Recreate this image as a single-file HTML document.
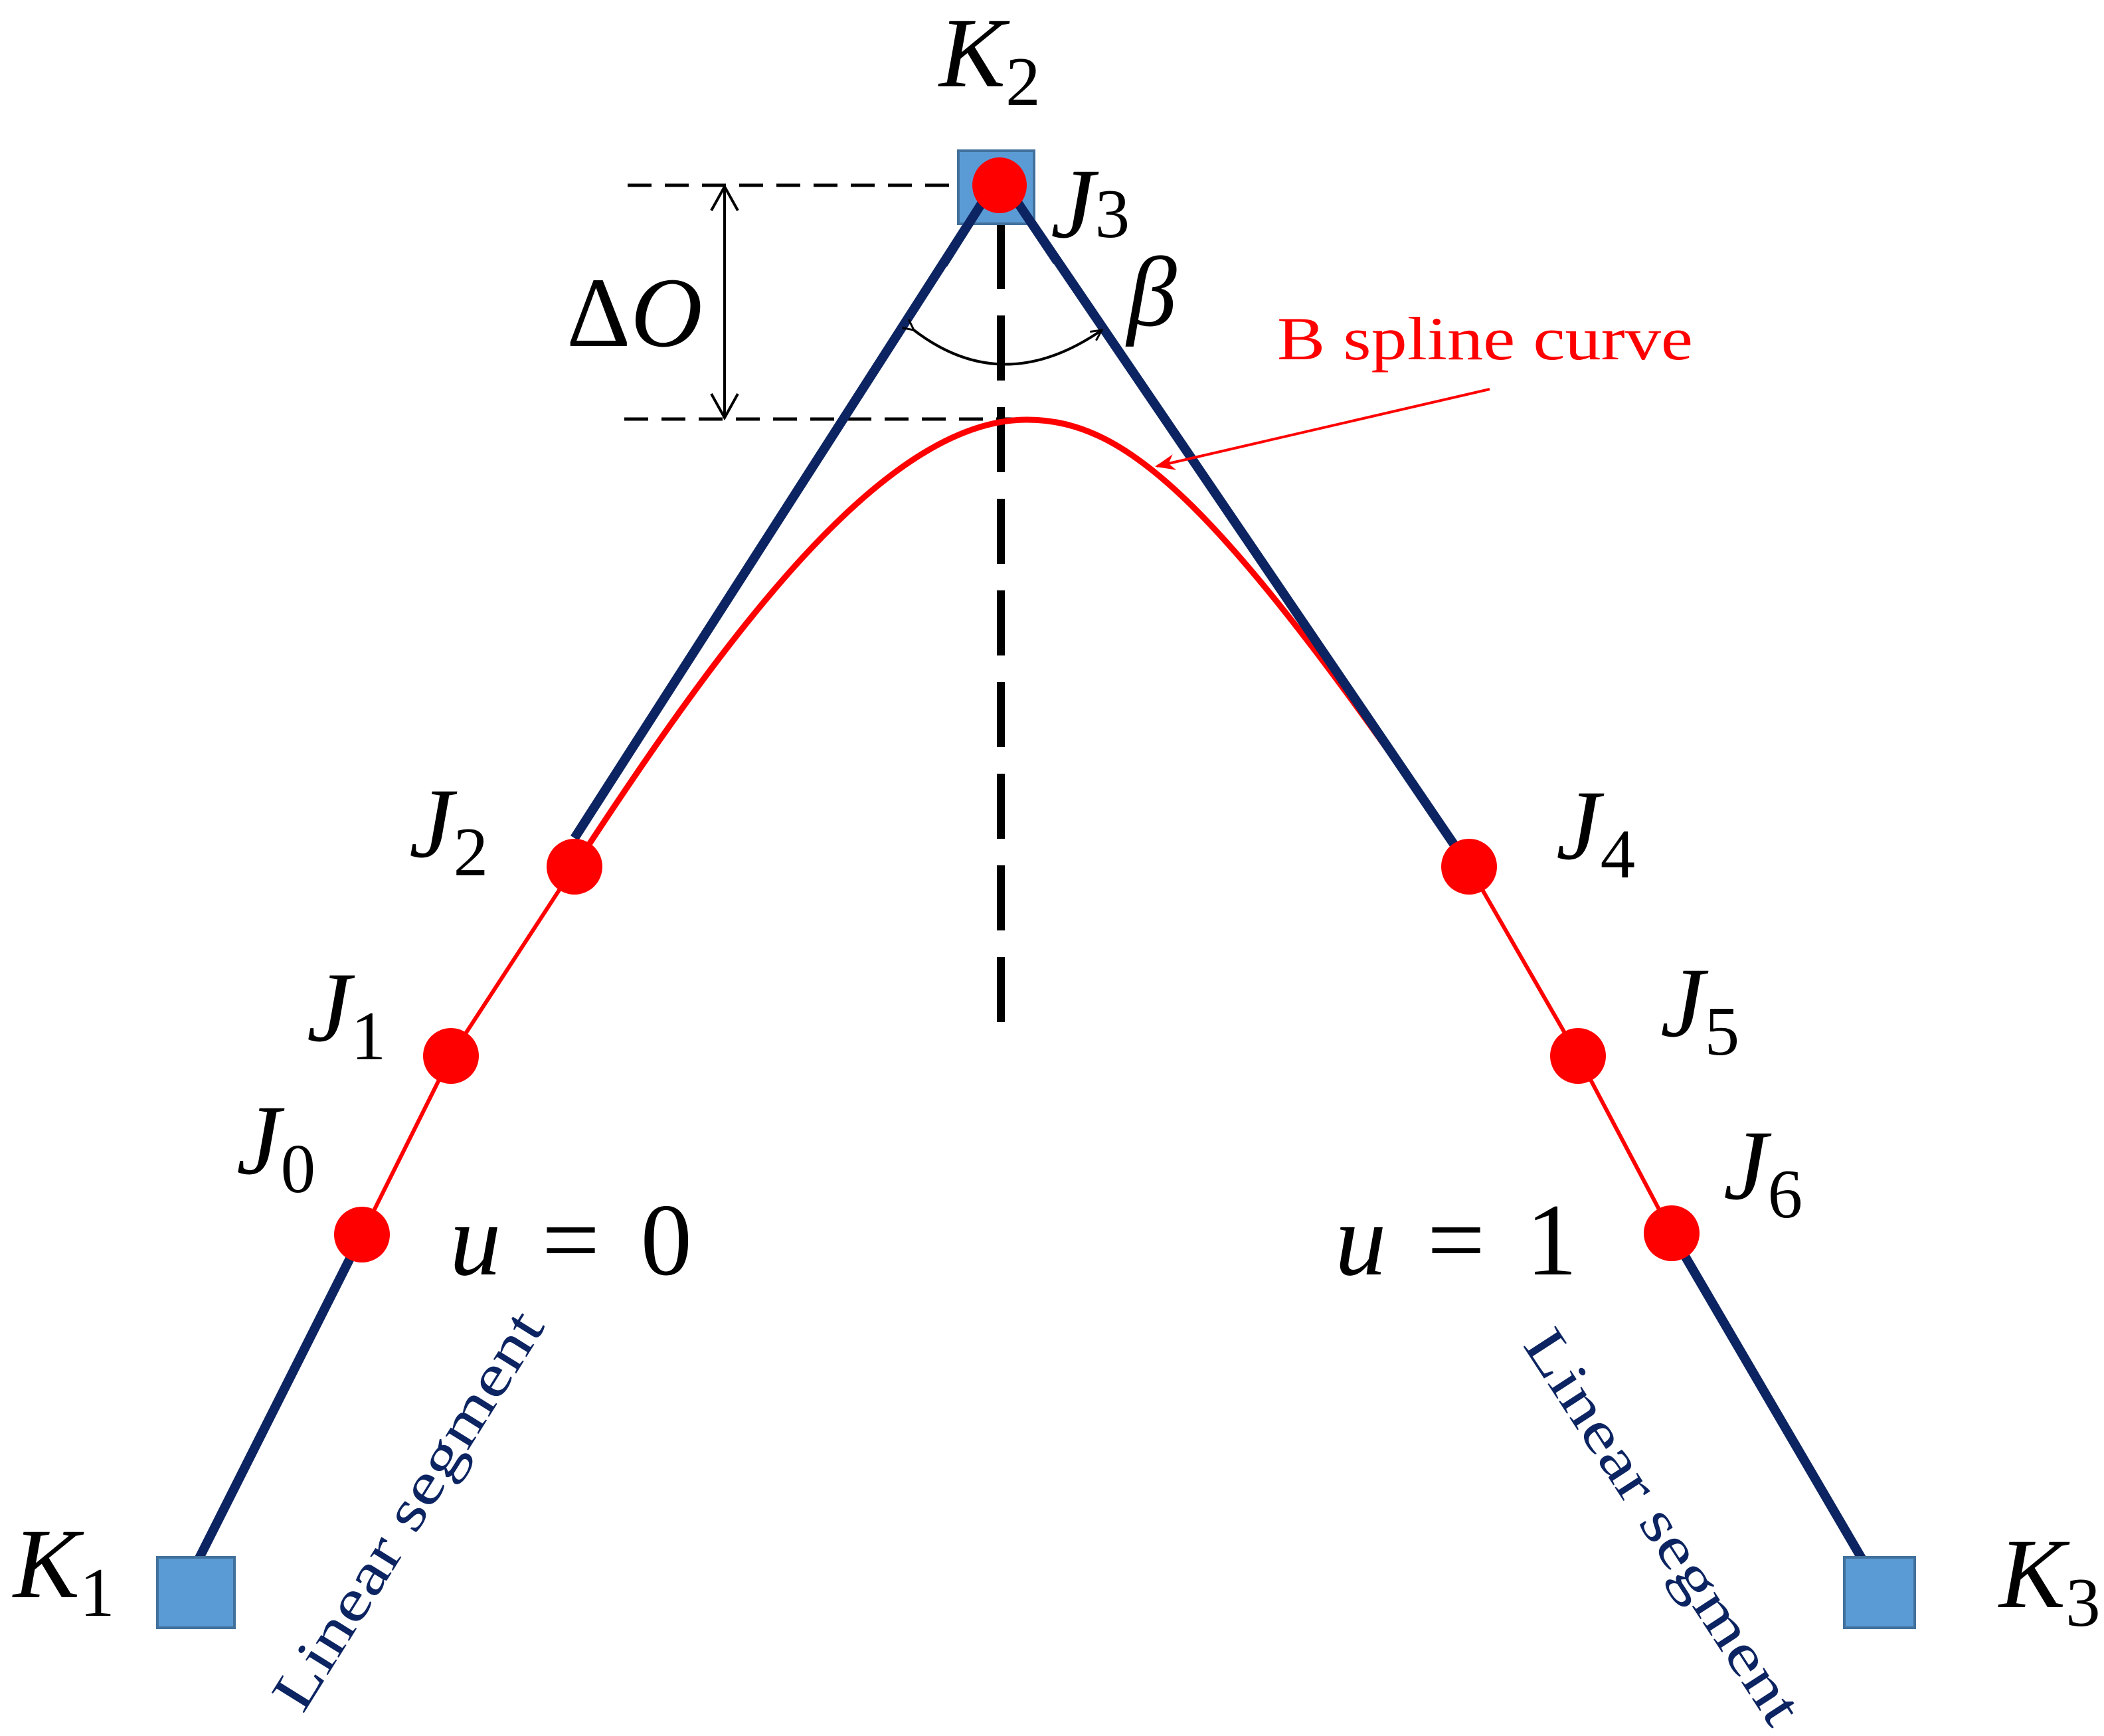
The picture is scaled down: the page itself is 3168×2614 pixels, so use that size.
<!DOCTYPE html>
<html><head><meta charset="utf-8"><style>html,body{margin:0;padding:0;background:#fff}svg{display:block}</style></head>
<body>
<svg width="3168" height="2614" viewBox="0 0 3168 2614" xmlns="http://www.w3.org/2000/svg">
<defs>
<marker id="oa" viewBox="0 0 20 20" refX="18" refY="10" markerWidth="20" markerHeight="20" markerUnits="userSpaceOnUse" orient="auto">
<path d="M2,2 L18,10 L2,18" fill="none" stroke="#000" stroke-width="3"/></marker>
<marker id="ra" viewBox="0 0 10 10" refX="9" refY="5" markerWidth="30" markerHeight="30" markerUnits="userSpaceOnUse" orient="auto">
<path d="M0,1 L10,5 L0,9 L3,5 Z" fill="#f00"/></marker>
</defs>
<line x1="945" y1="279" x2="1500" y2="279" stroke="#000" stroke-width="5" stroke-dasharray="36,20"/>
<line x1="940" y1="631" x2="1555" y2="631" stroke="#000" stroke-width="5" stroke-dasharray="36,20"/>
<line x1="1091" y1="285" x2="1091" y2="625" stroke="#000" stroke-width="4"/>
<path d="M1071,317 L1091,281 L1111,317 M1071,593 L1091,629 L1111,593" fill="none" stroke="#000" stroke-width="4"/>
<line x1="1507" y1="337" x2="1507" y2="1568" stroke="#000" stroke-width="12" stroke-dasharray="98,40"/>
<path d="M865,1305 C1090,960 1330,632 1546,632 C1700,632 1840,760 2212,1305" fill="none" stroke="#f00" stroke-width="9"/>
<path d="M545,1859 L679,1590 L865,1305 M2212,1305 L2376,1590 L2517,1857 L2800,2345" fill="none" stroke="#f00" stroke-width="6"/>
<path d="M865,1262 L1482,300 M545,1859 L299,2348 M1529,300 L2212,1305 M2517,1857 L2804,2348" fill="none" stroke="#0c2461" stroke-width="14"/>
<rect x="1443" y="227" width="114" height="110" fill="#5b9bd5" stroke="#41719c" stroke-width="4"/>
<rect x="237" y="2345" width="116" height="106" fill="#5b9bd5" stroke="#41719c" stroke-width="4"/>
<rect x="2777" y="2345" width="106" height="106" fill="#5b9bd5" stroke="#41719c" stroke-width="4"/>
<path d="M1482,300 L1420,398 M1529,300 L1592,394" stroke="#0c2461" stroke-width="14"/>
<path d="M1376,497 Q1510,600 1659,497" fill="none" stroke="#000" stroke-width="4" marker-start="url(#oa)" marker-end="url(#oa)"/>
<line x1="2243" y1="586" x2="1742" y2="702" stroke="#f00" stroke-width="4" marker-end="url(#ra)"/>
<g fill="#f00">
<ellipse cx="1505" cy="279" rx="41" ry="42"/>
<circle cx="545" cy="1859" r="42"/>
<circle cx="679" cy="1590" r="42"/>
<circle cx="865" cy="1305" r="42"/>
<circle cx="2212" cy="1305" r="42"/>
<circle cx="2376" cy="1590" r="42"/>
<circle cx="2517" cy="1857" r="42"/>
</g>
<g font-family="'Liberation Serif', serif" fill="#000">
<text x="1414" y="130" font-size="150" font-style="italic">K<tspan font-style="normal" font-size="105" dy="28">2</tspan></text>
<text x="1582" y="357" font-size="150" font-style="italic">J<tspan font-style="normal" font-size="105" dy="0">3</tspan></text>
<text x="1697" y="490" font-size="150" font-style="italic">β</text>
<text x="853" y="521" font-size="150">Δ<tspan font-style="italic">O</tspan></text>
<text x="616" y="1290" font-size="150" font-style="italic">J<tspan font-style="normal" font-size="105" dy="28">2</tspan></text>
<text x="462" y="1567" font-size="150" font-style="italic">J<tspan font-style="normal" font-size="105" dy="28">1</tspan></text>
<text x="356" y="1767" font-size="150" font-style="italic">J<tspan font-style="normal" font-size="105" dy="28">0</tspan></text>
<text x="2343" y="1293" font-size="150" font-style="italic">J<tspan font-style="normal" font-size="105" dy="28">4</tspan></text>
<text x="2500" y="1560" font-size="150" font-style="italic">J<tspan font-style="normal" font-size="105" dy="28">5</tspan></text>
<text x="2595" y="1805" font-size="150" font-style="italic">J<tspan font-style="normal" font-size="105" dy="28">6</tspan></text>
<text x="20" y="2405" font-size="150" font-style="italic">K<tspan font-style="normal" font-size="105" dy="28">1</tspan></text>
<text x="3010" y="2420" font-size="150" font-style="italic">K<tspan font-style="normal" font-size="105" dy="28">3</tspan></text>
<text x="677" y="1919" font-size="155" textLength="365" lengthAdjust="spacing"><tspan font-style="italic">u</tspan> = 0</text>
<text x="2010" y="1919" font-size="155" textLength="365" lengthAdjust="spacing"><tspan font-style="italic">u</tspan> = 1</text>
<text x="1923" y="541" font-size="92" fill="#f00" textLength="626" lengthAdjust="spacingAndGlyphs">B spline curve</text>
<text x="456" y="2582" font-size="88" fill="#0c2461" transform="rotate(-58 456 2582)" textLength="690" lengthAdjust="spacingAndGlyphs">Linear segment</text>
<text x="2292" y="2025" font-size="88" fill="#0c2461" transform="rotate(57 2292 2025)" textLength="690" lengthAdjust="spacingAndGlyphs">Linear segment</text>
</g>
</svg>
</body></html>
